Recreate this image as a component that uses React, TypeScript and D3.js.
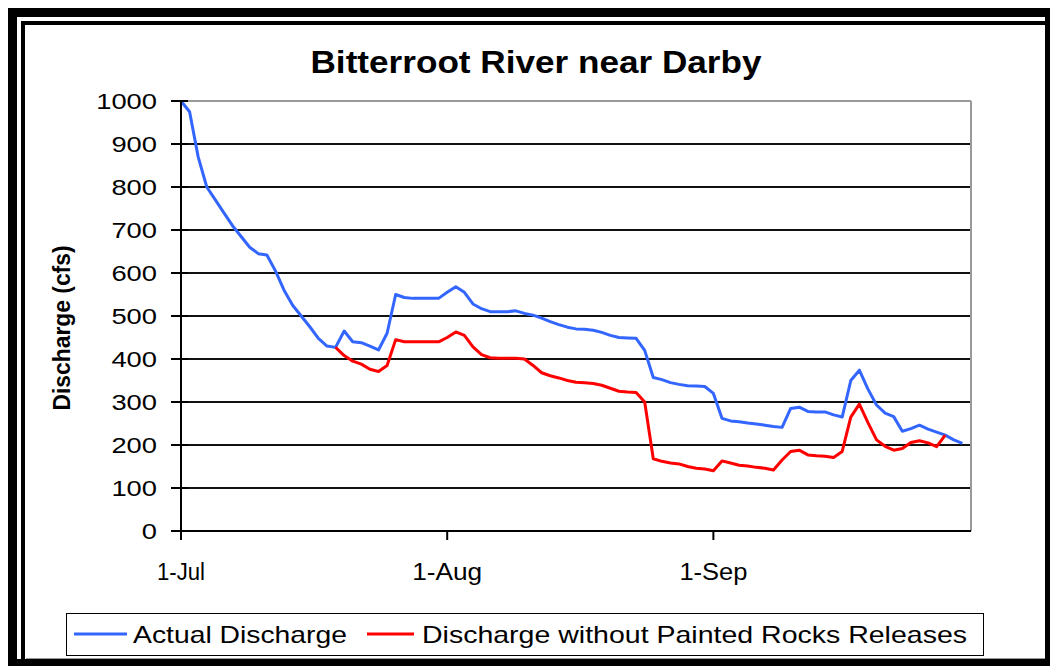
import React from "react";
import * as d3 from "d3";

// ---- Data (daily values, cfs) ----
const seriesStart = new Date(2000, 6, 1); // 1-Jul
const actualDischarge = [
  1000, 975, 870, 800, 770, 740, 710, 685, 660, 645,
  642, 605, 560, 525, 500, 475, 448, 430, 427, 465,
  440, 438, 430, 421, 460, 550, 543, 541, 541, 541,
  541, 555, 568, 555, 528, 517, 510, 510, 510, 512,
  506, 502, 495, 487, 480, 474, 470, 469, 467, 462,
  455, 450, 449, 448, 420, 357, 352, 345, 341, 338,
  337, 336, 320, 262, 256, 254, 251, 249, 246, 243,
  241, 285, 288, 278, 277, 277, 270, 265, 350, 374,
  330, 293, 274, 266, 232, 238, 246, 237, 230, 223,
  212, 204,
];
const noReleaseStartDay = 18; // 19-Jul
const dischargeWithoutReleases = [
  427, 408, 395, 388, 376, 371, 385, 445, 440, 440,
  440, 440, 440, 450, 463, 455, 428, 410, 403, 402,
  402, 402, 400, 385, 368, 361, 356, 350, 346, 345,
  343, 339, 332, 325, 323, 322, 300, 168, 162, 158,
  156, 150, 146, 144, 140, 163, 158, 153, 151, 148,
  146, 142, 165, 185, 188, 177, 175, 174, 171, 185,
  265, 295, 252, 212, 197, 188, 192, 206, 210, 205,
  196, 223,
];
const yTickValues = [0, 100, 200, 300, 400, 500, 600, 700, 800, 900, 1000];
const xTickLabels = ["1-Jul", "1-Aug", "1-Sep"];
const xTickDates = [new Date(2000, 6, 1), new Date(2000, 7, 1), new Date(2000, 8, 1)];
const xDomain = [new Date(2000, 6, 1), new Date(2000, 9, 1)];
const seriesNames = ["Actual Discharge", "Discharge without Painted Rocks Releases"];
const seriesColors = ["#3366FF", "#FF0000"];
const title = "Bitterroot River near Darby";
const yTitle = "Discharge (cfs)";

const FONT = "'Liberation Sans', Arial, sans-serif";
const xLabelWidths = [48, 70, 68];

function dayToDate(i: number) {
  return d3.timeDay.offset(seriesStart, i);
}

export default function App() {
  const x = d3.scaleTime().domain(xDomain).range([181, 971]);
  const y = d3.scaleLinear().domain([0, 1000]).range([531, 101]);

  const actualPts = actualDischarge.map((v, i) => ({ d: dayToDate(i), v }));
  const noRelPts = dischargeWithoutReleases.map((v, i) => ({ d: dayToDate(i + noReleaseStartDay), v }));

  const line = d3
    .line<{ d: Date; v: number }>()
    .x((p) => x(p.d))
    .y((p) => y(p.v));

  const [x0, x1] = x.range();
  const [yb, yt] = y.range();

  return (
    <svg
      width={1050}
      height={666}
      style={{ position: "absolute", left: 0, top: 0, display: "block" }}
    >
      {/* chart frame */}
      <rect x={8} y={8} width={1050} height={666} fill="#000" />
      <rect x={17} y={17} width={1028} height={642} fill="#fff" />
      <rect x={21} y={21} width={4} height={638} fill="#000" />
      <rect x={21} y={21} width={1024} height={4} fill="#000" />
      <line x1={26} x2={1045} y1={658.5} y2={658.5} stroke="#999" strokeWidth={1} />

      {/* title */}
      <text
        x={536}
        y={73}
        textAnchor="middle"
        fontFamily={FONT}
        fontWeight="bold"
        fontSize={32}
        textLength={451}
        lengthAdjust="spacingAndGlyphs"
        fill="#000"
      >
        {title}
      </text>

      {/* gridlines */}
      {yTickValues
        .filter((t) => t > 0 && t < 1000)
        .map((t) => (
          <line key={t} x1={x0} x2={x1} y1={y(t)} y2={y(t)} stroke="#111" strokeWidth={2} />
        ))}
      {/* plot border top & right */}
      <line x1={x0} x2={x1} y1={yt} y2={yt} stroke="#999" strokeWidth={2} />
      <line x1={x1} x2={x1} y1={yt} y2={yb} stroke="#999" strokeWidth={2} />

      {/* series */}
      <path
        d={line(actualPts) || ""}
        fill="none"
        stroke={seriesColors[0]}
        strokeWidth={3}
        strokeLinejoin="round"
      />
      <path
        d={line(noRelPts) || ""}
        fill="none"
        stroke={seriesColors[1]}
        strokeWidth={3}
        strokeLinejoin="round"
      />

      {/* axes */}
      <line x1={x0} x2={x0} y1={yt} y2={yb + 9} stroke="#000" strokeWidth={2} />
      <line x1={x0 - 10} x2={x1} y1={yb} y2={yb} stroke="#000" strokeWidth={2} />
      {yTickValues.map((t) => (
        <g key={t}>
          <line x1={x0 - 10} x2={x0 + 7} y1={y(t)} y2={y(t)} stroke="#000" strokeWidth={2} />
          <text
            x={157}
            y={y(t)}
            dy="0.36em"
            textAnchor="end"
            fontFamily={FONT}
            fontSize={22}
            textLength={String(t).length * 15.2}
            lengthAdjust="spacingAndGlyphs"
            fill="#000"
          >
            {t}
          </text>
        </g>
      ))}
      {xTickDates.map((d, i) => (
        <g key={i}>
          <line x1={x(d)} x2={x(d)} y1={yb} y2={yb + 9} stroke="#000" strokeWidth={2} />
          <text
            x={x(d)}
            y={580}
            textAnchor="middle"
            fontFamily={FONT}
            fontSize={23}
            textLength={xLabelWidths[i]}
            lengthAdjust="spacingAndGlyphs"
            fill="#000"
          >
            {xTickLabels[i]}
          </text>
        </g>
      ))}

      {/* y axis title */}
      <text
        transform={`translate(70,${328}) rotate(-90)`}
        textAnchor="middle"
        fontFamily={FONT}
        fontWeight="bold"
        fontSize={24}
        textLength={165}
        lengthAdjust="spacingAndGlyphs"
        fill="#000"
      >
        {yTitle}
      </text>

      {/* legend */}
      <rect x={66.5} y={613.5} width={917} height={42} fill="#fff" stroke="#000" strokeWidth={1} />
      <line x1={74} x2={127} y1={634} y2={634} stroke={seriesColors[0]} strokeWidth={3} />
      <text
        x={133}
        y={634}
        dy="0.36em"
        fontFamily={FONT}
        fontSize={24}
        textLength={214}
        lengthAdjust="spacingAndGlyphs"
        fill="#000"
      >
        {seriesNames[0]}
      </text>
      <line x1={367} x2={414} y1={634} y2={634} stroke={seriesColors[1]} strokeWidth={3} />
      <text
        x={422}
        y={634}
        dy="0.36em"
        fontFamily={FONT}
        fontSize={24}
        textLength={545}
        lengthAdjust="spacingAndGlyphs"
        fill="#000"
      >
        {seriesNames[1]}
      </text>
    </svg>
  );
}
